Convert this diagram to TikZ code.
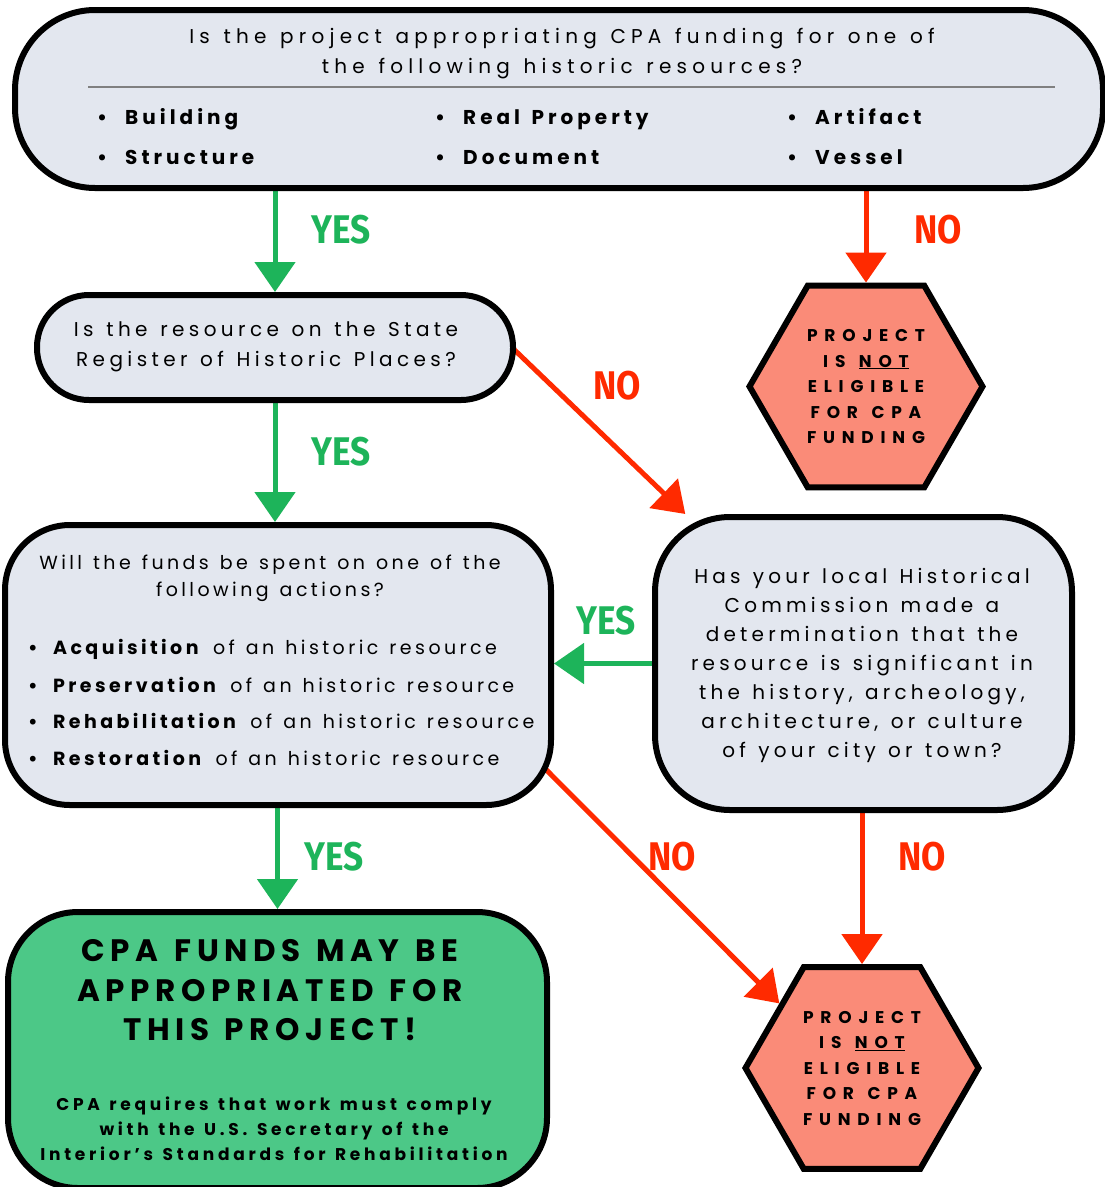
\documentclass[tikz,border=0pt]{standalone}
\usepackage{fontspec}
\setmainfont{Poppins}
\usetikzlibrary{arrows.meta,shapes.geometric,backgrounds,calc}
\newfontfamily\topf[LetterSpace=26,WordSpace=1.3]{Poppins}
\newfontfamily\bulf[LetterSpace=20,WordSpace=1.4]{Poppins}
\newfontfamily\qtwof[LetterSpace=22]{Poppins}
\newfontfamily\qthreef[LetterSpace=18,WordSpace=1.5]{Poppins}
\newfontfamily\qfourf[LetterSpace=21,WordSpace=1.3]{Poppins}
\newfontfamily\gtitf[LetterSpace=18,WordSpace=1.3]{Poppins}
\newfontfamily\gsmallf[LetterSpace=22,WordSpace=1.3]{Poppins}
\newfontfamily\hexf[LetterSpace=40,WordSpace=1.3]{Poppins}
\newfontfamily\condf[FakeStretch=0.88]{Fira Sans}
\definecolor{boxfill}{HTML}{E3E7EF}
\definecolor{garrow}{HTML}{1DB45A}
\definecolor{rarrow}{HTML}{FF2A00}
\definecolor{hexfill}{HTML}{FA8B78}
\definecolor{gbox}{HTML}{4CC887}
\newcommand{\bulA}{\textbf{•}\hspace{14pt}}
\newcommand{\bulB}{\textbf{•}\hspace{12pt}}
\tikzset{
  qbox/.style={draw=black, line width=6pt, fill=boxfill, rectangle, inner sep=0pt},
  hexbox/.style={draw=black, line width=6pt, fill=hexfill, regular polygon, regular polygon sides=6, minimum size=233pt, inner sep=0pt,
    font=\hexf\bfseries\fontsize{17}{25.5}\selectfont, align=center},
  yesarrow/.style={draw=garrow, line width=5pt, -{Triangle[width=40pt,length=30pt]}},
  noarrow/.style={draw=rarrow, line width=5pt, -{Triangle[width=40pt,length=30pt]}},
  yeslab/.style={text=garrow, font=\condf\bfseries\fontsize{40}{40}\selectfont},
  nolab/.style={text=rarrow, font=\condf\bfseries\fontsize{40}{40}\selectfont},
  qtext/.style={font=\topf\fontsize{20}{30}\selectfont, align=center, inner sep=0pt},
  btext/.style={font=\bulf\fontsize{20}{30}\selectfont, anchor=base west, inner sep=0pt},
  ctext/.style={font=\qthreef\fontsize{19}{27}\selectfont, anchor=base west, inner sep=0pt},
}
\begin{document}
\begin{tikzpicture}[x=1pt,y=-1pt]
\useasboundingbox (0,0) rectangle (1105,1187);
% boxes
\node[qbox, rounded corners=80pt, minimum width=1088pt, minimum height=178pt] (q1) at (559,99) {};
\draw[gray, line width=1.5pt] (88,87) -- (1055,87);
\node[qtext] (q1t) at (562,54) {Is the project appropriating CPA funding for one of\\the following historic resources?};
\node[btext] (b1) at (97,124) {\bulA\textbf{Building}};
\node[btext] (b2) at (97,164) {\bulA\textbf{Structure}};
\node[btext] (b3) at (435,124) {\bulA\textbf{Real Property}};
\node[btext] (b4) at (435,164) {\bulA\textbf{Document}};
\node[btext] (b5) at (787,124) {\bulA\textbf{Artifact}};
\node[btext] (b6) at (787,164) {\bulA\textbf{Vessel}};

\node[qbox, rounded corners=52pt, minimum width=476pt, minimum height=105pt] (q2) at (275,347.5) {};
\node[qtext, font=\qtwof\fontsize{20}{30}\selectfont] (q2t) at (266,347) {Is the resource on the State\\Register of Historic Places?};

\node[qbox, rounded corners=65pt, minimum width=546pt, minimum height=280pt] (q3) at (278,665) {};
\node[qtext, font=\qthreef\fontsize{19}{27}\selectfont] (q3t) at (270,578) {Will the funds be spent on one of the\\following actions?};
\node[ctext] (c1) at (28,654) {\bulB\textbf{Acquisition} of an historic resource};
\node[ctext] (c2) at (28,692) {\bulB\textbf{Preservation} of an historic resource};
\node[ctext] (c3) at (28,728) {\bulB\textbf{Rehabilitation} of an historic resource};
\node[ctext] (c4) at (28,765) {\bulB\textbf{Restoration} of an historic resource};

\node[qbox, rounded corners=75pt, minimum width=417pt, minimum height=293pt] (q4) at (863.5,663.5) {};
\node[qtext, font=\qfourf\fontsize{20}{29}\selectfont] (q4t) at (862,665) {Has your local Historical\\Commission made a\\determination that the\\resource is significant in\\the history, archeology,\\architecture, or culture\\of your city or town?};

\node[qbox, fill=gbox, rounded corners=70pt, minimum width=539pt, minimum height=276pt] (q5) at (277.5,1050) {};
\node[qtext, font=\gtitf\bfseries\fontsize{31}{39.5}\selectfont] (q5t) at (270,990.5) {CPA FUNDS MAY BE\\APPROPRIATED FOR\\THIS PROJECT!};
\node[qtext, font=\gsmallf\bfseries\fontsize{17}{25}\selectfont] (q5s) at (274,1129) {CPA requires that work must comply\\with the U.S. Secretary of the\\Interior’s Standards for Rehabilitation};

\node[hexbox] (h1) at (866,386.5) {PROJECT\\IS \underline{NOT}\\ELIGIBLE\\FOR CPA\\FUNDING};
\node[hexbox] (h2) at (862,1068) {PROJECT\\IS \underline{NOT}\\ELIGIBLE\\FOR CPA\\FUNDING};

% connectors
\begin{scope}[on background layer]
\draw[yesarrow] (q1.south -| q2.north) -- (q2.north);
\draw[noarrow] (q1.south -| h1.north) -- (h1.north);
\draw[yesarrow] (q2.south) -- (q2.south |- q3.north);
\draw[noarrow] ($(q2.east)+(-4,0)$) -- (q4.140);
\draw[yesarrow] (q4.west) -- (q4.west -| q3.east);
\draw[yesarrow] (q3.south -| q5.north) -- (q5.north);
\draw[noarrow] ($(q3.-22)+(-9,-8)$) -- (h2.142);
\draw[noarrow] (q4.south -| h2.north) -- (h2.north);
\end{scope}

% labels
\node[yeslab] (y1) at (341,230) {YES};
\node[nolab] (n1) at (938,230) {NO};
\node[yeslab] (y2) at (341,452) {YES};
\node[nolab] (n2) at (617,386) {NO};
\node[yeslab] (y3) at (606,621) {YES};
\node[yeslab] (y4) at (334,857) {YES};
\node[nolab] (n3) at (672,857) {NO};
\node[nolab] (n4) at (922,857) {NO};
\end{tikzpicture}
\end{document}
